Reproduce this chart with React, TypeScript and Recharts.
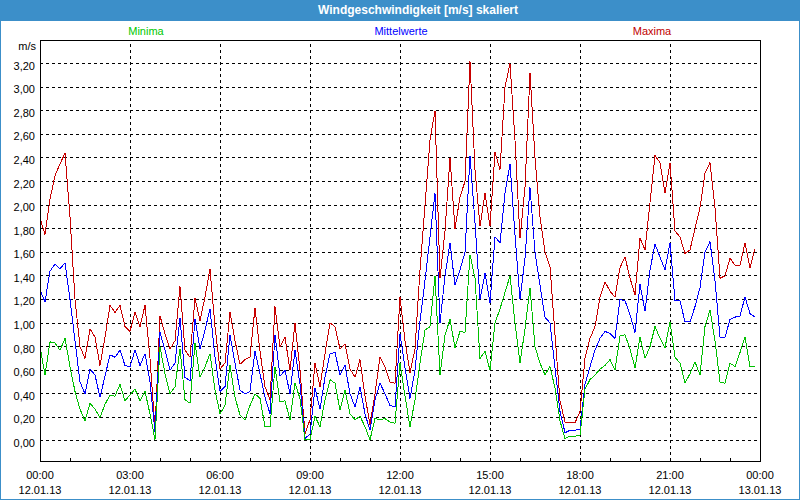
import React from 'react';
import {
  LineChart,
  Line,
  XAxis,
  YAxis,
  CartesianGrid,
  ReferenceLine,
  ReferenceArea,
} from 'recharts';

const FONT = '"Liberation Sans", Arial, sans-serif';
const BLUE_FRAME = '#3c8fc9';

// 10-minute values, 00:00 .. 23:50
const MAXIMA = [
  1.89, 1.75, 2.05, 2.25, 2.35, 2.44, 1.9, 1.2, 0.8, 0.7, 0.95, 0.88,
  0.64, 0.88, 1.15, 1.09, 1.15, 0.97, 0.93, 1.09, 0.97, 1.15, 0.7, 0.1,
  1.06, 0.91, 0.78, 0.85, 1.31, 0.77, 0.71, 1.21, 1.02, 1.22, 1.46, 0.97,
  0.61, 0.66, 1.09, 0.85, 0.65, 0.69, 0.71, 1.13, 0.76, 0.46, 0.35, 1.14,
  0.8, 0.88, 0.6, 1.0, 0.6, 0.06, 0.18, 0.66, 0.46, 0.74, 1.0, 0.97,
  0.78, 0.82, 0.61, 0.54, 0.69, 0.38, 0.14, 0.4, 0.71, 0.63, 0.5, 0.49,
  1.22, 0.85, 0.58, 0.78, 1.45, 2.0, 2.55, 2.8, 1.38, 1.78, 2.4, 1.8,
  2.07, 2.2, 3.22, 2.3, 1.82, 2.1, 1.82, 2.45, 2.3, 3.0, 3.2, 2.55,
  1.72, 2.15, 3.12, 2.4, 1.9, 1.6, 1.48, 0.9, 0.34, 0.16, 0.16, 0.155,
  0.25, 0.7, 0.87, 0.97, 1.22, 1.35, 1.27, 1.22, 1.47, 1.56, 1.38, 1.24,
  1.72, 1.62, 2.02, 2.42, 2.36, 2.1, 2.36, 1.78, 1.73, 1.59, 1.62, 1.8,
  1.98, 2.27, 2.36, 1.98, 1.38, 1.4, 1.55, 1.49, 1.49, 1.68, 1.47, 1.63,
];

const MITTELWERTE = [
  1.28, 1.18, 1.44, 1.5, 1.46, 1.51, 1.2, 0.85, 0.5, 0.4, 0.61, 0.56,
  0.37, 0.55, 0.73, 0.71, 0.77, 0.64, 0.63, 0.77, 0.64, 0.74, 0.5, 0.08,
  0.92, 0.77, 0.6, 0.66, 1.04, 0.54, 0.51, 1.03, 0.78, 0.94, 1.12, 0.71,
  0.42, 0.46, 0.9, 0.66, 0.43, 0.4, 0.42, 0.76, 0.57, 0.37, 0.23, 0.9,
  0.55, 0.6, 0.4, 0.77, 0.48, 0.02, 0.06, 0.45, 0.27, 0.54, 0.74, 0.75,
  0.56, 0.64, 0.4, 0.29, 0.46, 0.23, 0.09, 0.35, 0.49, 0.4, 0.3, 0.29,
  0.91, 0.62, 0.36, 0.6, 1.02, 1.36, 1.73, 2.1, 1.0, 1.4, 1.68, 1.32,
  1.45, 1.6, 2.42, 1.85, 1.2, 1.42, 1.17, 1.73, 1.68, 2.1, 2.35, 1.75,
  1.2, 1.55, 2.15, 1.6, 1.32, 1.05, 1.0, 0.62, 0.25, 0.07, 0.09, 0.09,
  0.1, 0.48, 0.63, 0.77, 0.87, 0.93, 0.91, 0.87, 1.2, 1.19, 1.07, 0.92,
  1.33, 1.1, 1.45, 1.67, 1.56, 1.45, 1.68, 1.19, 1.19, 1.01, 1.01, 1.14,
  1.3, 1.6, 1.69, 1.36, 0.88, 0.88, 1.03, 1.05, 1.06, 1.22, 1.08, 1.05,
];

const MINIMA = [
  0.8, 0.56, 0.84, 0.83, 0.77, 0.87, 0.63, 0.42, 0.27, 0.17, 0.32, 0.27,
  0.2, 0.31, 0.39, 0.38, 0.48, 0.34, 0.39, 0.44, 0.34, 0.42, 0.23, 0.01,
  0.8, 0.57, 0.4, 0.46, 0.78, 0.35, 0.32, 0.83, 0.54, 0.63, 0.74, 0.43,
  0.23, 0.3, 0.64, 0.37, 0.22, 0.18, 0.3, 0.4, 0.36, 0.12, 0.12, 0.63,
  0.33, 0.34, 0.18, 0.49, 0.36, 0.01, 0.01, 0.21, 0.12, 0.35, 0.52, 0.49,
  0.26, 0.43, 0.23, 0.18, 0.21, 0.12, 0.01, 0.19, 0.18, 0.19, 0.16, 0.15,
  0.66, 0.38, 0.12, 0.35, 0.66, 0.94, 0.97, 1.4, 0.56, 0.9, 1.03, 0.79,
  0.93, 0.92, 1.58, 1.38, 0.7, 0.76, 0.6, 1.0, 1.12, 1.26, 1.4, 1.0,
  0.66, 0.95, 1.3, 0.8, 0.66, 0.56, 0.63, 0.45, 0.17, 0.02, 0.04, 0.04,
  0.05, 0.44, 0.52, 0.56, 0.61, 0.64, 0.69, 0.6, 0.89, 0.9, 0.78, 0.62,
  0.88, 0.7, 0.8, 0.97, 0.87, 0.79, 1.01, 0.71, 0.66, 0.49, 0.57, 0.67,
  0.56, 0.97, 1.11, 0.85, 0.5, 0.49, 0.66, 0.63, 0.75, 0.88, 0.63, 0.63,
];

const X_TICKS = [0, 3, 6, 9, 12, 15, 18, 21, 24];
const TIME_LABELS = ['00:00', '03:00', '06:00', '09:00', '12:00', '15:00', '18:00', '21:00', '00:00'];
const DATE_LABELS = ['12.01.13', '12.01.13', '12.01.13', '12.01.13', '12.01.13', '12.01.13', '12.01.13', '12.01.13', '13.01.13'];
const HOUR_TICKS = Array.from({ length: 25 }, (_, h) => h);
const Y_TICKS = [0, 0.2, 0.4, 0.6, 0.8, 1, 1.2, 1.4, 1.6, 1.8, 2, 2.2, 2.4, 2.6, 2.8, 3, 3.2];
const Y_MIN = -0.17;
const Y_MAX = 3.4;

const data = MAXIMA.map((max, i) => ({
  t: i / 6,
  max,
  mean: MITTELWERTE[i],
  min: MINIMA[i],
}));

function HourTick(props: any) {
  const { x, y, payload } = props;
  const idx = X_TICKS.indexOf(payload.value);
  return (
    <g>
      <line x1={x} x2={x} y1={y} y2={y - 3} stroke="#000" />
      {idx >= 0 && (
        <>
          <text x={x} y={y + 18} textAnchor="middle" fontSize={11} fontFamily={FONT} fill="#000">
            {TIME_LABELS[idx]}
          </text>
          <text x={x} y={y + 33} textAnchor="middle" fontSize={11} fontFamily={FONT} fill="#000">
            {DATE_LABELS[idx]}
          </text>
        </>
      )}
    </g>
  );
}

function ValueTick(props: any) {
  const { x, y, payload } = props;
  return (
    <text x={x} y={y + 6} textAnchor="end" fontSize={11} fontFamily={FONT} fill="#000">
      {payload.value.toFixed(2).replace('.', ',')}
    </text>
  );
}

const label = (left: number, color: string, text: string) => (
  <div
    style={{
      position: 'absolute',
      left: left - 60,
      width: 120,
      top: 25,
      textAlign: 'center',
      fontSize: 11,
      color,
      lineHeight: '13px',
    }}
  >
    {text}
  </div>
);

export default function App() {
  return (
    <div
      style={{
        position: 'absolute',
        left: 0,
        top: 0,
        width: 800,
        height: 500,
        background: '#fff',
        fontFamily: FONT,
        shapeRendering: 'crispEdges',
      }}
    >
      <LineChart
        width={800}
        height={500}
        data={data}
        margin={{ top: 40, right: 40, bottom: 0, left: 0 }}
      >
        <CartesianGrid vertical={false} stroke="#000" strokeDasharray="3 3" />
        {X_TICKS.slice(1, -1).map((h) => (
          <ReferenceLine key={h} x={h} stroke="#000" strokeDasharray="3 3" />
        ))}
        <ReferenceArea x1={0} x2={24} y1={Y_MIN} y2={Y_MAX} fill="none" stroke="#000" />
        <XAxis
          dataKey="t"
          type="number"
          domain={[0, 24]}
          ticks={HOUR_TICKS}
          interval={0}
          tick={<HourTick />}
          tickLine={false}
          tickSize={0}
          tickMargin={0}
          axisLine={{ stroke: '#000' }}
          height={39}
        />
        <YAxis
          type="number"
          domain={[Y_MIN, Y_MAX]}
          ticks={Y_TICKS}
          interval={0}
          tickLine={false}
          tickSize={0}
          tickMargin={5}
          width={40}
          axisLine={{ stroke: '#000' }}
          tick={<ValueTick />}
        />
        <Line type="linear" dataKey="max" stroke="#c80000" strokeWidth={1} dot={false} activeDot={false} isAnimationActive={false} />
        <Line type="linear" dataKey="mean" stroke="#0000ff" strokeWidth={1} dot={false} activeDot={false} isAnimationActive={false} />
        <Line type="linear" dataKey="min" stroke="#00c000" strokeWidth={1} dot={false} activeDot={false} isAnimationActive={false} />
      </LineChart>

      <div
        style={{
          position: 'absolute',
          left: 0,
          top: 0,
          width: 800,
          height: 21,
          background: BLUE_FRAME,
        }}
      >
        <div
          style={{
            position: 'absolute',
            left: 318,
            width: 200,
            top: 3,
            textAlign: 'center',
            whiteSpace: 'nowrap',
            color: '#fff',
            fontWeight: 'bold',
            fontSize: 12,
            lineHeight: '14px',
          }}
        >
          Windgeschwindigkeit [m/s] skaliert
        </div>
      </div>

      {label(146, '#00c800', 'Minima')}
      {label(401, '#0000ff', 'Mittelwerte')}
      {label(652, '#c00000', 'Maxima')}

      <div
        style={{
          position: 'absolute',
          left: 0,
          width: 36,
          top: 40,
          textAlign: 'right',
          fontSize: 11,
          lineHeight: '13px',
          color: '#000',
        }}
      >
        m/s
      </div>

      <div
        style={{
          position: 'absolute',
          left: 0,
          top: 0,
          width: 800,
          height: 500,
          boxSizing: 'border-box',
          border: `1px solid ${BLUE_FRAME}`,
          pointerEvents: 'none',
        }}
      />
    </div>
  );
}
